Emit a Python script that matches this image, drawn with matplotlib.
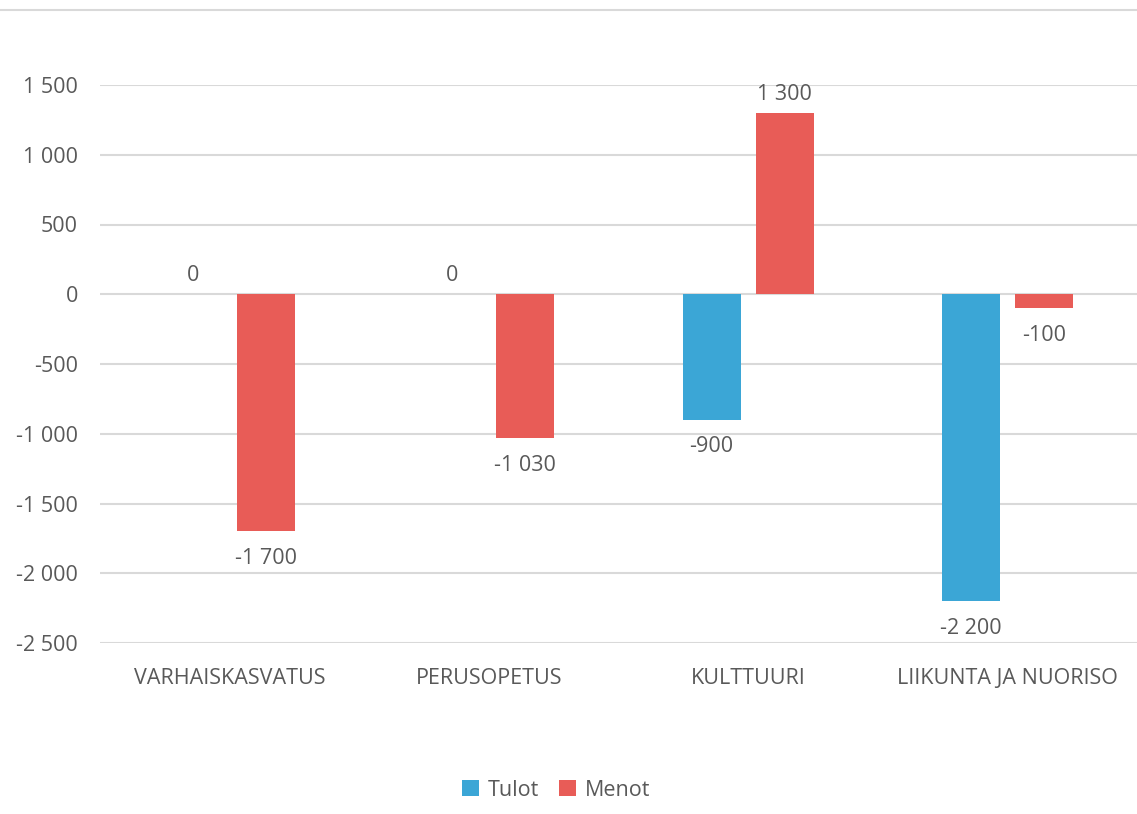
import numpy as np
import matplotlib.pyplot as plt
from matplotlib.ticker import FuncFormatter
from matplotlib.lines import Line2D

plt.rcParams['font.family'] = ['Open Sans', 'DejaVu Sans']

categories = ['VARHAISKASVATUS', 'PERUSOPETUS', 'KULTTUURI', 'LIIKUNTA JA NUORISO']
tulot = [0, 0, -900, -2200]
menot = [-1700, -1030, 1300, -100]
yticks = [-2500, -2000, -1500, -1000, -500, 0, 500, 1000, 1500]

c_tulot = '#3BA6D6'
c_menot = '#E85C57'
txt = '#595959'
grid = '#D9D9D9'
fs = 15.5


def fmt(v):
    return f'{int(v):,}'.replace(',', ' ')


fig = plt.figure(figsize=(11.37, 8.14), dpi=100)
ax = fig.add_axes([100 / 1137, 1 - 643 / 814, 1 - 100 / 1137, (643 - 85) / 814])

x = np.arange(len(categories))
w = 0.224
off = 0.141
b1 = ax.bar(x - off, tulot, w, color=c_tulot, label='Tulot', zorder=3)
b2 = ax.bar(x + off, menot, w, color=c_menot, label='Menot', zorder=3)

for bars, vals in ((b1, tulot), (b2, menot)):
    for rect, v in zip(bars, vals):
        cx = rect.get_x() + rect.get_width() / 2
        if v >= 0:
            ax.annotate(fmt(v), (cx, v), xytext=(0, 6), textcoords='offset points',
                        ha='center', va='bottom', fontsize=fs, color=txt, clip_on=False)
        else:
            ax.annotate(fmt(v), (cx, v), xytext=(0, -12), textcoords='offset points',
                        ha='center', va='top', fontsize=fs, color=txt, clip_on=False)

ax.set_xlim(-0.5, 3.5)
ax.set_ylim(-2500, 1500)
ax.set_yticks(yticks)
ax.yaxis.set_major_formatter(FuncFormatter(lambda v, p: fmt(v)))
ax.set_xticks(x)
ax.set_xticklabels(categories)
ax.tick_params(axis='y', length=0, pad=16, labelsize=fs, labelcolor=txt)
ax.tick_params(axis='x', length=0, pad=18, labelsize=fs, labelcolor=txt)
ax.grid(axis='y', color=grid, linewidth=1.5, zorder=0)
for s in ax.spines.values():
    s.set_visible(False)

# thin border line at the very top
fig.add_artist(Line2D([0, 1], [1 - 10 / 814, 1 - 10 / 814], color=grid, linewidth=1.5))

fig.legend(handles=[b1, b2], loc='center', bbox_to_anchor=(556 / 1137, 1 - 790 / 814),
           ncol=2, frameon=False, fontsize=fs, labelcolor=txt, handlelength=0.8,
           handleheight=0.8, handletextpad=0.4, columnspacing=0.9)

fig.savefig('out.png', dpi=100, facecolor='white')
